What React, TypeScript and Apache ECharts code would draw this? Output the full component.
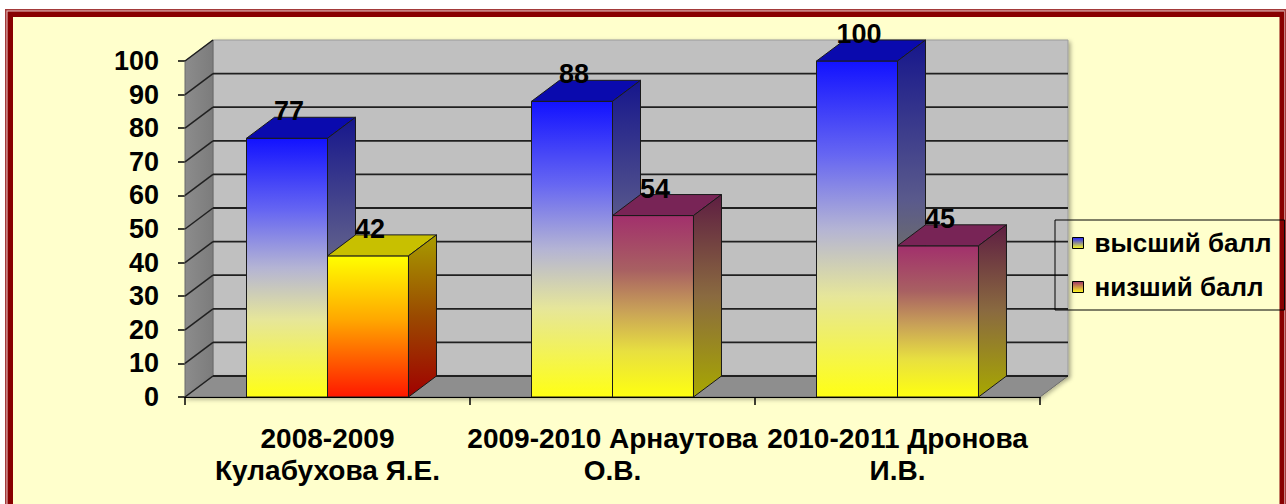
import React, { useEffect, useRef } from "react";
import * as echarts from "echarts";

const categories = [
  "2008-2009\nКулабухова Я.Е.",
  "2009-2010 Арнаутова\nО.В.",
  "2010-2011 Дронова\nИ.В.",
];
const seriesNames = ["высший балл", "низший балл"];
const highScores = [77, 88, 100];
const lowScores = [42, 54, 45];
const yTicks = [0, 10, 20, 30, 40, 50, 60, 70, 80, 90, 100];

const FONT = '"Liberation Sans", Arial, sans-serif';
const BAR_FRAC = 0.2842;
const BAR_DX = 28;
const BAR_DY = -21;
const WALL_DX = 28;
const WALL_DY = -21;

type Stops = [number, string][];
const grad = (stops: Stops) =>
  new echarts.graphic.LinearGradient(
    0, 0, 0, 1,
    stops.map(([offset, color]) => ({ offset, color }))
  );

const palettes = {
  blue: {
    front: [[0, "#1212FF"], [0.28, "#6666F2"], [0.5, "#B4B4D4"], [0.7, "#E6E69A"], [1, "#FFFF14"]] as Stops,
    side: [[0, "#16168C"], [0.45, "#5A5A8C"], [1, "#A0A010"]] as Stops,
    top: "#0A0AAE",
  },
  red: {
    front: [[0, "#A2306C"], [0.3, "#A86062"], [0.52, "#C8A058"], [0.75, "#E8E040"], [1, "#FFFF10"]] as Stops,
    side: [[0, "#5E1E42"], [0.5, "#8A6A40"], [1, "#A8A800"]] as Stops,
    top: "#782456",
  },
  orange: {
    front: [[0, "#FFFF00"], [0.45, "#FFA800"], [1, "#FF1800"]] as Stops,
    side: [[0, "#A89C00"], [0.5, "#9A4A00"], [1, "#A00000"]] as Stops,
    top: "#C8C000",
  },
};

function paletteFor(seriesPos: number, dataIndex: number) {
  if (seriesPos === 0) return palettes.blue;
  if (dataIndex === 0) return palettes.orange;
  return palettes.red;
}

function makeBarRender(seriesPos: number) {
  return (params: any, api: any) => {
    const idx = api.value(0);
    const val = api.value(1);
    const top = api.coord([idx, val]);
    const base = api.coord([idx, 0]);
    const band = api.size([1, 0])[0];
    const w = band * BAR_FRAC;
    const xl = top[0] - w + seriesPos * w;
    const yt = top[1];
    const yb = base[1];
    const pal = paletteFor(seriesPos, params.dataIndex);
    const stroke = { stroke: "#1a1a1a", lineWidth: 1 };
    return {
      type: "group",
      children: [
        {
          type: "rect",
          shape: { x: xl, y: yt, width: w, height: yb - yt },
          style: { fill: grad(pal.front), ...stroke },
        },
        {
          type: "polygon",
          shape: {
            points: [
              [xl, yt],
              [xl + BAR_DX, yt + BAR_DY],
              [xl + w + BAR_DX, yt + BAR_DY],
              [xl + w, yt],
            ],
          },
          style: { fill: pal.top, ...stroke },
        },
        {
          type: "polygon",
          shape: {
            points: [
              [xl + w, yt],
              [xl + w + BAR_DX, yt + BAR_DY],
              [xl + w + BAR_DX, yb + BAR_DY],
              [xl + w, yb],
            ],
          },
          style: { fill: grad(pal.side), ...stroke },
        },
        {
          type: "text",
          x: xl + w / 2 + 2,
          y: yt - 27,
          style: {
            text: String(val),
            fill: "#000",
            fontSize: 27,
            fontWeight: "bold",
            fontFamily: FONT,
            align: "center",
            verticalAlign: "middle",
          },
        },
      ],
    };
  };
}

function wallRender(params: any, api: any) {
  const band = api.size([1, 0])[0];
  const x0 = api.coord([0, 0])[0] - band / 2;
  const x1 = api.coord([categories.length - 1, 0])[0] + band / 2;
  const yb = api.coord([0, yTicks[0]])[1];
  const yt = api.coord([0, yTicks[yTicks.length - 1]])[1];
  const children: any[] = [
    {
      type: "rect",
      shape: { x: x0 + WALL_DX, y: yt + WALL_DY, width: x1 - x0, height: yb - yt },
      style: {
        fill: "#C0C0C0",
        stroke: "#9a9a9a",
        lineWidth: 1,
        shadowBlur: 4,
        shadowColor: "rgba(0,0,0,0.35)",
        shadowOffsetX: 2,
        shadowOffsetY: 2,
      },
    },
    {
      type: "polygon",
      shape: {
        points: [
          [x0, yt],
          [x0 + WALL_DX, yt + WALL_DY],
          [x0 + WALL_DX, yb + WALL_DY],
          [x0, yb],
        ],
      },
      style: {
        fill: new echarts.graphic.LinearGradient(0, 0, 1, 0, [
          { offset: 0, color: "#8C8C8C" },
          { offset: 1, color: "#7C7C7C" },
        ]),
        stroke: "#6a6a6a",
        lineWidth: 1,
      },
    },
    {
      type: "polygon",
      shape: {
        points: [
          [x0, yb],
          [x0 + WALL_DX, yb + WALL_DY],
          [x1 + WALL_DX, yb + WALL_DY],
          [x1, yb],
        ],
      },
      style: {
        fill: "#8E8E8E",
        stroke: "#6a6a6a",
        lineWidth: 1,
        shadowBlur: 4,
        shadowColor: "rgba(0,0,0,0.3)",
        shadowOffsetX: 1,
        shadowOffsetY: 2,
      },
    },
  ];
  yTicks.forEach((t, i) => {
    const y = api.coord([0, t])[1];
    if (i !== yTicks.length - 1) {
      children.push({
        type: "line",
        shape: { x1: x0 + WALL_DX, y1: y + WALL_DY, x2: x1 + WALL_DX, y2: y + WALL_DY },
        style: { stroke: "#202020", lineWidth: 1.8 },
      });
    }
    children.push({
      type: "line",
      shape: { x1: x0, y1: y, x2: x0 + WALL_DX, y2: y + WALL_DY },
      style: { stroke: "#202020", lineWidth: 1.5 },
    });
  });
  return { type: "group", children };
}

export default function App() {
  const ref = useRef<HTMLDivElement>(null);
  useEffect(() => {
    if (!ref.current) return;
    const chart = echarts.init(ref.current, undefined, { renderer: "svg" });
    const legendBlue = grad([[0, "#2020FF"], [1, "#FFFF20"]]);
    const legendRed = grad([[0, "#A0306A"], [1, "#FFFF20"]]);
    chart.setOption({
      animation: false,
      backgroundColor: "#ffffff",
      graphic: [
        { type: "rect", z: -10, silent: true, shape: { x: 5, y: 9, width: 1281, height: 600 }, style: { fill: "#A33A3A" } },
        { type: "rect", z: -10, silent: true, shape: { x: 6.5, y: 10.5, width: 1278, height: 600 }, style: { fill: "#EBC6C6" } },
        { type: "rect", z: -10, silent: true, shape: { x: 7.5, y: 11.5, width: 1276.5, height: 600 }, style: { fill: "#880000" } },
        { type: "rect", z: -10, silent: true, shape: { x: 13, y: 17, width: 1266.5, height: 600 }, style: { fill: "#FFFFCC" } },
      ],
      grid: { left: 185, right: 246, top: 61, bottom: 107, containLabel: false },
      legend: {
        orient: "vertical",
        left: 1055,
        top: 220,
        padding: [8, 13, 8, 17],
        itemWidth: 11,
        itemHeight: 11,
        itemGap: 14,
        borderColor: "#000",
        borderWidth: 1,
        backgroundColor: "transparent",
        icon: "rect",
        textStyle: {
          fontSize: 26,
          fontWeight: "bold",
          fontFamily: FONT,
          color: "#000",
          lineHeight: 30,
          padding: [0, 0, 0, 6],
        },
        data: [
          { name: seriesNames[0], itemStyle: { color: legendBlue, borderColor: "#000", borderWidth: 1 } },
          { name: seriesNames[1], itemStyle: { color: legendRed, borderColor: "#000", borderWidth: 1 } },
        ],
      },
      xAxis: {
        type: "category",
        data: categories,
        boundaryGap: true,
        axisLine: { show: true, lineStyle: { color: "#000", width: 1 } },
        axisTick: { show: true, length: 8, lineStyle: { color: "#000", width: 1.5 } },
        axisLabel: {
          interval: 0,
          margin: 25,
          fontSize: 28,
          fontWeight: "bold",
          fontFamily: FONT,
          color: "#000",
          lineHeight: 32,
          align: "center",
        },
        z: 5,
      },
      yAxis: {
        type: "value",
        min: yTicks[0],
        max: yTicks[yTicks.length - 1],
        interval: 10,
        splitLine: { show: false },
        axisLine: { show: false },
        axisTick: { show: true, length: 7, lineStyle: { color: "#000", width: 1.5 } },
        axisLabel: {
          margin: 26,
          fontSize: 27,
          fontWeight: "bold",
          fontFamily: FONT,
          color: "#000",
        },
      },
      series: [
        {
          type: "custom",
          name: "walls",
          silent: true,
          clip: false,
          z: 1,
          data: [[0, 0]],
          renderItem: wallRender,
        },
        {
          type: "custom",
          name: seriesNames[0],
          silent: true,
          clip: false,
          z: 2,
          itemStyle: { color: legendBlue },
          data: highScores.map((v, i) => [i, v]),
          encode: { x: 0, y: 1 },
          renderItem: makeBarRender(0),
        },
        {
          type: "custom",
          name: seriesNames[1],
          silent: true,
          clip: false,
          z: 3,
          itemStyle: { color: legendRed },
          data: lowScores.map((v, i) => [i, v]),
          encode: { x: 0, y: 1 },
          renderItem: makeBarRender(1),
        },
      ],
    });
    return () => chart.dispose();
  }, []);
  return (
    <div
      ref={ref}
      style={{ position: "fixed", left: 0, top: 0, width: 1286, height: 504 }}
    />
  );
}
